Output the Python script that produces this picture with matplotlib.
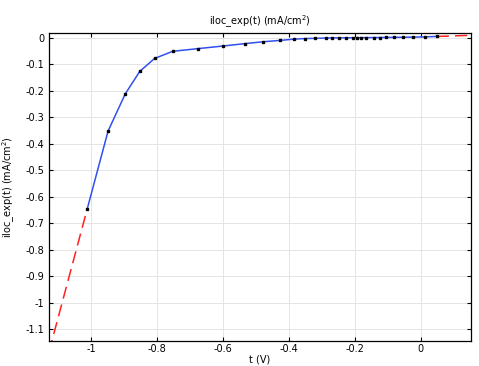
import matplotlib
matplotlib.use("Agg")
import matplotlib.pyplot as plt
import numpy as np
from matplotlib.ticker import FuncFormatter, MultipleLocator

t_volts = [-1.011, -0.948, -0.896, -0.852, -0.807, -0.752, -0.676, -0.599,
           -0.533, -0.478, -0.427, -0.384, -0.351, -0.320, -0.288, -0.268,
           -0.248, -0.228, -0.205, -0.193, -0.180, -0.165, -0.142, -0.124,
           -0.106, -0.082, -0.055, -0.023, 0.012, 0.048]
iloc = [-0.646, -0.353, -0.213, -0.128, -0.079, -0.052, -0.042, -0.032,
        -0.023, -0.016, -0.011, -0.006, -0.004, -0.003, -0.002, -0.0015,
        -0.0012, -0.001, -0.0008, -0.0006, -0.0005, -0.0003, -0.0002, 0.0,
        0.0003, 0.0006, 0.001, 0.0015, 0.0025, 0.004]

XLIM = (-1.127, 0.152)
YLIM = (-1.144, 0.017)
label = "iloc_exp(t) (mA/cm$^2$)"

plt.rcParams["font.family"] = "DejaVu Sans"
plt.rcParams["font.size"] = 7

fig = plt.figure(figsize=(4.79, 3.66), dpi=100)
ax = fig.add_axes([0.1023, 0.0691, 0.881, 0.8407])

t = np.array(t_volts)
y = np.array(iloc)

# linear extrapolation beyond the data range
sl = (y[1] - y[0]) / (t[1] - t[0])
sr = (y[-1] - y[-2]) / (t[-1] - t[-2])
ax.plot([XLIM[0], t[0]], [y[0] + sl * (XLIM[0] - t[0]), y[0]],
        color="#ff2020", lw=1.1, dashes=(8, 4), zorder=2)
ax.plot([t[-1], XLIM[1]], [y[-1], y[-1] + sr * (XLIM[1] - t[-1])],
        color="#ff2020", lw=1.1, dashes=(8, 4), zorder=2)

ax.plot(t, y, color="#3050f0", lw=1.1, zorder=3)
ax.plot(t, y, ls="none", marker="s", ms=1.6, color="black", zorder=4)

ax.set_xlim(*XLIM)
ax.set_ylim(*YLIM)
ax.xaxis.set_major_locator(MultipleLocator(0.2))
ax.yaxis.set_major_locator(MultipleLocator(0.1))
fmt = FuncFormatter(lambda v, p: "%g" % round(v, 3))
ax.xaxis.set_major_formatter(fmt)
ax.yaxis.set_major_formatter(fmt)
ax.tick_params(direction="in", top=True, right=True, length=3, width=0.8)
ax.tick_params(axis="x", pad=2.5)
ax.grid(True, color="#e4e4e4", lw=0.7)
ax.set_axisbelow(True)
for s in ax.spines.values():
    s.set_linewidth(0.9)

ax.set_title(label, fontsize=7, pad=6)
ax.set_xlabel("t (V)", labelpad=0)
ax.set_ylabel(label, labelpad=6)

fig.savefig("out.png", dpi=100)
